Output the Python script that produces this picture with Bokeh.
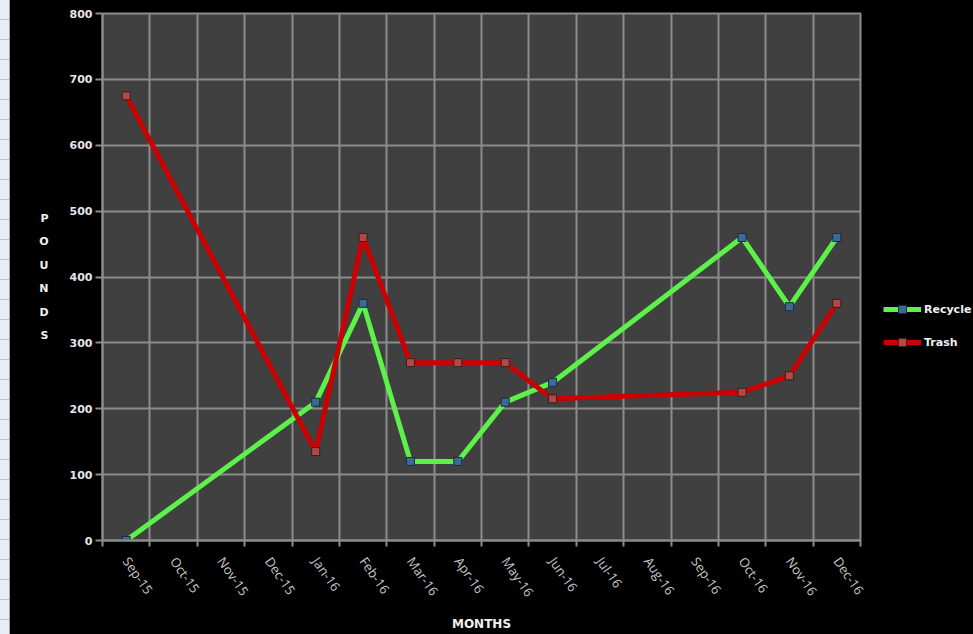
from bokeh.plotting import figure
from bokeh.models import (FixedTicker, Legend, LegendItem, Div, Range1d)
from bokeh.layouts import row
from bokeh.embed import file_html
from bokeh.resources import INLINE

months = ["Sep-15", "Oct-15", "Nov-15", "Dec-15", "Jan-16", "Feb-16", "Mar-16",
          "Apr-16", "May-16", "Jun-16", "Jul-16", "Aug-16", "Sep-16", "Oct-16",
          "Nov-16", "Dec-16"]
data_months = ["Sep-15", "Jan-16", "Feb-16", "Mar-16", "Apr-16", "May-16",
               "Jun-16", "Oct-16", "Nov-16", "Dec-16"]
recycle = [0, 210, 360, 120, 120, 210, 240, 460, 355, 460]
trash = [675, 135, 460, 270, 270, 270, 215, 225, 250, 360]
y_ticks = [0, 100, 200, 300, 400, 500, 600, 700, 800]
series_names = ["Recycle", "Trash"]

xs = [months.index(m) + 0.5 for m in data_months]
centers = [i + 0.5 for i in range(len(months))]
bounds = list(range(len(months) + 1))

GRID = "#8c8c8c"
GREEN = "#5cf24a"
RED = "#cc0000"
MK_G = dict(fill_color="#3c6a96", line_color="#1c2c3c")
MK_R = dict(fill_color="#b04a4a", line_color="#3c1c1c")

p = figure(width=863, height=634, output_backend="svg", toolbar_location=None,
           x_range=Range1d(0, len(months)), y_range=Range1d(0, 800),
           min_border_left=92, min_border_right=13, min_border_top=13,
           min_border_bottom=93)
p.border_fill_color = "black"
p.background_fill_color = "#404040"
p.outline_line_color = GRID
p.outline_line_width = 2

# grid
p.xgrid.ticker = FixedTicker(ticks=bounds)
p.ygrid.ticker = FixedTicker(ticks=y_ticks)
for g in (p.xgrid, p.ygrid):
    g.grid_line_color = GRID
    g.grid_line_width = 2

# x axis
xa = p.xaxis[0]
xa.ticker = FixedTicker(ticks=centers, minor_ticks=bounds)
xa.major_label_overrides = {c: m for c, m in zip(centers, months)}
xa.major_tick_line_color = None
xa.major_tick_out = 0
xa.major_tick_in = 0
xa.minor_tick_line_color = GRID
xa.minor_tick_line_width = 2
xa.minor_tick_out = 6
xa.minor_tick_in = 0
xa.axis_line_color = GRID
xa.axis_line_width = 2
xa.major_label_orientation = -0.96
xa.major_label_standoff = 12
xa.major_label_text_font = "Open Sans"
xa.major_label_text_font_size = "13px"
xa.major_label_text_color = "#c8c8c8"
xa.axis_label = "MONTHS"
xa.axis_label_text_font = "DejaVu Sans"
xa.axis_label_text_font_style = "bold"
xa.axis_label_text_font_size = "12px"
xa.axis_label_text_color = "#f0f0f0"
xa.axis_label_standoff = 9

# y axis
ya = p.yaxis[0]
ya.ticker = FixedTicker(ticks=y_ticks)
ya.minor_tick_line_color = None
ya.major_tick_line_color = GRID
ya.major_tick_line_width = 2
ya.major_tick_out = 7
ya.major_tick_in = 0
ya.axis_line_color = GRID
ya.axis_line_width = 2
ya.major_label_standoff = 3
ya.major_label_text_font = "DejaVu Sans"
ya.major_label_text_font_style = "bold"
ya.major_label_text_font_size = "11px"
ya.major_label_text_color = "#e6e6e6"
ya.axis_label = "\n".join("POUNDS")
ya.axis_label_orientation = "horizontal"
ya.axis_label_text_line_height = 1.8
ya.axis_label_text_font = "DejaVu Sans"
ya.axis_label_text_font_style = "bold"
ya.axis_label_text_font_size = "11px"
ya.axis_label_text_color = "#f0f0f0"
ya.axis_label_standoff = 18

# series
p.line(xs, recycle, line_color=GREEN, line_width=5)
p.scatter(xs, recycle, marker="square", size=8, line_width=1, **MK_G)
p.line(xs, trash, line_color=RED, line_width=5)
p.scatter(xs, trash, marker="square", size=8, line_width=1, **MK_R)

# legend panel: a small figure on the right whose ranges keep its copies of
# the series out of view, so only the legend shows
q = figure(width=100, height=634, output_backend="svg", toolbar_location=None,
           x_range=Range1d(0, 1), y_range=Range1d(-2, -1),
           x_axis_type=None, y_axis_type=None,
           min_border_left=0, min_border_right=0, min_border_top=0,
           min_border_bottom=0)
q.grid.visible = False
q.outline_line_color = None
q.border_fill_color = "black"
q.background_fill_color = "black"
lg_r = q.line(xs, recycle, line_color=GREEN, line_width=5)
lg_rm = q.scatter(xs, recycle, marker="square", size=8, line_width=1, **MK_G)
lg_t = q.line(xs, trash, line_color=RED, line_width=5)
lg_tm = q.scatter(xs, trash, marker="square", size=8, line_width=1, **MK_R)
legend = Legend(items=[LegendItem(label=series_names[0], renderers=[lg_r, lg_rm]),
                       LegendItem(label=series_names[1], renderers=[lg_t, lg_tm])],
                location=(10, 188), orientation="vertical",
                glyph_width=38, glyph_height=20, spacing=13, padding=0,
                margin=0, label_standoff=3,
                label_text_font="DejaVu Sans", label_text_font_style="bold",
                label_text_font_size="11px", label_text_color="#f0f0f0",
                background_fill_alpha=0, border_line_color=None)
q.add_layout(legend, "center")

strip = Div(width=10, height=634, margin=0, styles={
    "background": "repeating-linear-gradient(#e9eef6 0px, #e9eef6 19px, #b8c4d6 19px, #b8c4d6 20px)",
    "border-right": "1px solid #9aa5b5", "box-sizing": "border-box"})

layout = row(strip, p, q, spacing=0, styles={"background-color": "black"})
open("out.html", "w").write(file_html(layout, INLINE))
